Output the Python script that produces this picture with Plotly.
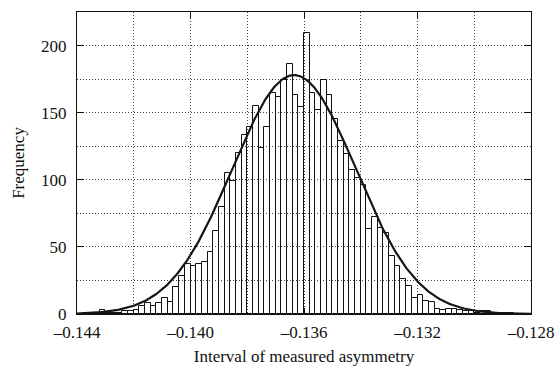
import numpy as np
import plotly.graph_objects as go

# ---- data ----
bin_start = -0.144
bin_width = 0.0002
counts = [0, 1, 0, 0, 3, 1, 1, 1, 2, 2,
          3, 6, 8, 6, 8, 12, 9, 20, 28, 37,
          36, 37, 39, 46, 62, 80, 105, 99, 120, 133,
          139, 155, 124, 139, 165, 162, 174, 186, 163, 154,
          209, 165, 152, 174, 163, 145, 129, 119, 107, 101,
          96, 63, 72, 64, 60, 43, 36, 26, 21, 12,
          14, 10, 9, 4, 3, 4, 4, 3, 2, 2,
          1, 2, 2, 1, 1, 1, 1, 0, 0, 0]

# fitted normal curve parameters
fit_mean = -0.13635
fit_sigma = 0.00218
fit_peak = 178.0

x_tick_vals = [-0.144, -0.140, -0.136, -0.132, -0.128]
x_tick_text = ["\u20130.144", "\u20130.140", "\u20130.136", "\u20130.132", "\u20130.128"]
x_minor_vals = [-0.142, -0.138, -0.134, -0.130]
y_tick_vals = [0, 50, 100, 150, 200]
y_minor_vals = [25, 75, 125, 175]

x_title = "Interval of measured asymmetry"
y_title = "Frequency"

# ---- build ----
centers = [bin_start + bin_width * (i + 0.5) for i in range(len(counts))]
xs = np.linspace(-0.144, -0.128, 400)
ys = fit_peak * np.exp(-0.5 * ((xs - fit_mean) / fit_sigma) ** 2)

FONT = "Liberation Serif, Times New Roman, serif"
GRID = "#444444"

fig = go.Figure()
fig.add_trace(go.Bar(
    x=centers, y=counts, width=bin_width,
    marker=dict(color="rgba(255,255,255,0)", line=dict(color="#111111", width=1)),
    showlegend=False,
))
fig.add_trace(go.Scatter(
    x=xs, y=ys, mode="lines",
    line=dict(color="#151515", width=2.2),
    showlegend=False,
))

fig.update_layout(
    width=557, height=366,
    margin=dict(l=77, r=26, t=12, b=52),
    paper_bgcolor="white", plot_bgcolor="white",
    font=dict(family=FONT, size=17, color="#111111"),
    bargap=0,
)
fig.update_xaxes(
    range=[-0.144, -0.128],
    tickmode="array", tickvals=x_tick_vals, ticktext=x_tick_text,
    ticks="inside", ticklen=6, tickcolor="#111111",
    ticklabelstandoff=3,
    showline=True, linecolor="#111111", linewidth=1, mirror="ticks",
    showgrid=True, gridcolor=GRID, griddash="1px,2px", gridwidth=1,
    minor=dict(tickmode="array", tickvals=x_minor_vals, showgrid=True,
               gridcolor=GRID, griddash="1px,2px", gridwidth=1, ticks=""),
    zeroline=False,
    automargin=False,
    title=dict(text=x_title, font=dict(size=17), standoff=12),
    tickfont=dict(size=17),
)
fig.update_yaxes(
    range=[0, 225],
    tickmode="array", tickvals=y_tick_vals,
    ticks="inside", ticklen=7, tickcolor="#111111",
    ticklabelstandoff=6,
    showline=True, linecolor="#111111", linewidth=1, mirror="ticks",
    showgrid=True, gridcolor=GRID, griddash="1px,2px", gridwidth=1,
    minor=dict(tickmode="array", tickvals=y_minor_vals, showgrid=True,
               gridcolor=GRID, griddash="1px,2px", gridwidth=1, ticks=""),
    zeroline=False,
    automargin=False,
    title=dict(text=y_title, font=dict(size=17), standoff=12),
    tickfont=dict(size=17),
)

fig.write_html("out.html")
